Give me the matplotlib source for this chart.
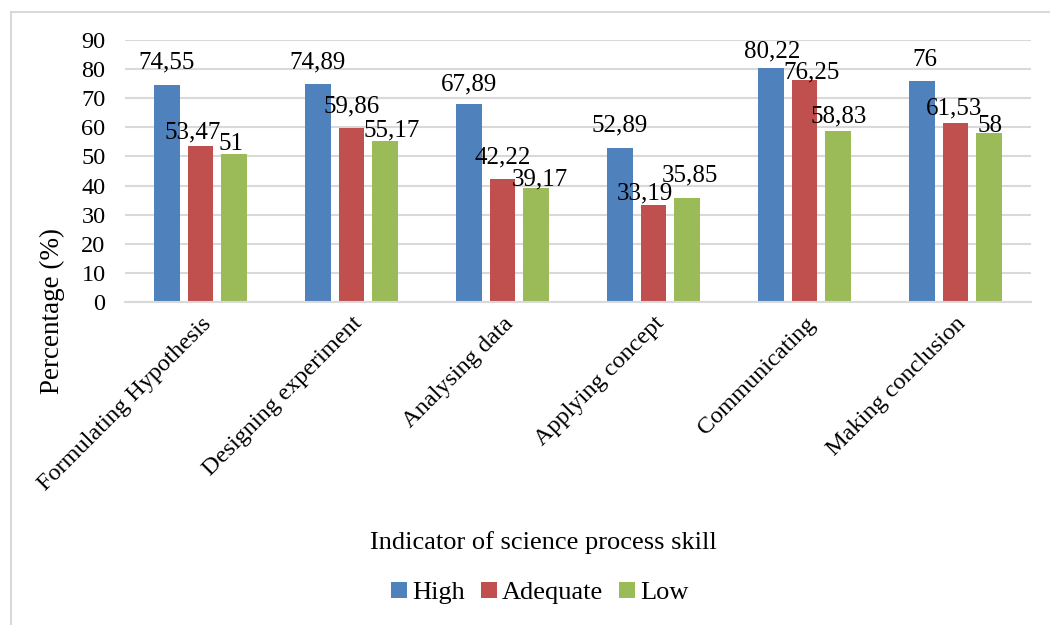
import numpy as np
import matplotlib.pyplot as plt
from matplotlib.patches import Rectangle

categories = ["Formulating Hypothesis", "Designing experiment", "Analysing data",
              "Applying concept", "Communicating", "Making conclusion"]
high = [74.55, 74.89, 67.89, 52.89, 80.22, 76]
adequate = [53.47, 59.86, 42.22, 33.19, 76.25, 61.53]
low = [51, 55.17, 39.17, 35.85, 58.83, 58]
series_names = ["High", "Adequate", "Low"]
colors = ["#4F81BD", "#C0504D", "#9BBB59"]

# label nudges in pixels (dx, height of label centre above bar top), as placed in the original
label_shift = [
    [(0, 25), (0, 24), (0, 22), (0, 25), (1, 20), (3, 23)],
    [(-8, 16), (0, 24), (0, 24), (-9, 14), (7, 10), (-1, 17)],
    [(-3, 12), (7, 13), (4, 11), (3, 25), (1, 17), (1, 10)],
]

plt.rcParams["font.family"] = ["Liberation Serif", "DejaVu Serif"]

W, H = 1050, 625
fig = plt.figure(figsize=(W / 100, H / 100), dpi=100)
fig.patches.append(Rectangle((11 / W, -0.01), 1.1, 1 - 12 / H + 0.01,
                             transform=fig.transFigure, fill=False,
                             edgecolor="#d9d9d9", lw=1.5))
ax = fig.add_axes([125 / W, 1 - 302 / H, 906 / W, 262 / H])

x = np.arange(len(categories))
width = 0.172
step = 0.222


def fmt(v):
    s = f"{v:.2f}".rstrip("0").rstrip(".")
    return s.replace(".", ",")


for i, (vals, name, c) in enumerate(zip([high, adequate, low], series_names, colors)):
    pos = x + (i - 1) * step
    ax.bar(pos, vals, width, color=c, label=name, zorder=2)
    for j, (p, v) in enumerate(zip(pos, vals)):
        dx, dy = label_shift[i][j]
        ax.annotate(fmt(v), (p, v), xytext=(dx * 0.72, (dy - 8.5) * 0.72),
                    textcoords="offset points", ha="center", va="baseline",
                    fontsize=18, zorder=3)

ax.set_ylim(0, 90)
ax.set_xlim(-0.5, len(categories) - 0.5)
ax.set_yticks(range(0, 91, 10))
ax.tick_params(axis="y", labelsize=17.5, length=0, pad=14)
ax.set_xticks(x)
ax.set_xticklabels(categories, rotation=45, ha="right", rotation_mode="anchor", fontsize=17.5)
ax.tick_params(axis="x", length=0, pad=8)
ax.grid(axis="y", color="#d9d9d9", lw=1.5, zorder=0)
for s in ["top", "right", "left"]:
    ax.spines[s].set_visible(False)
ax.spines["bottom"].set_color("#d9d9d9")
ax.spines["bottom"].set_linewidth(1.5)

fig.text(52 / W, 1 - 311 / H, "Percentage (%)", rotation=90, ha="center", va="center", fontsize=19.5)
fig.text(543 / W, 1 - 543 / H, "Indicator of science process skill", ha="center", va="center", fontsize=19)
fig.legend(loc="center", bbox_to_anchor=(540 / W, 1 - 593 / H), ncol=3, frameon=False,
           fontsize=19, handlelength=0.6, handleheight=0.6, handletextpad=0.2, columnspacing=0.6)

fig.savefig("out.png", dpi=100)
